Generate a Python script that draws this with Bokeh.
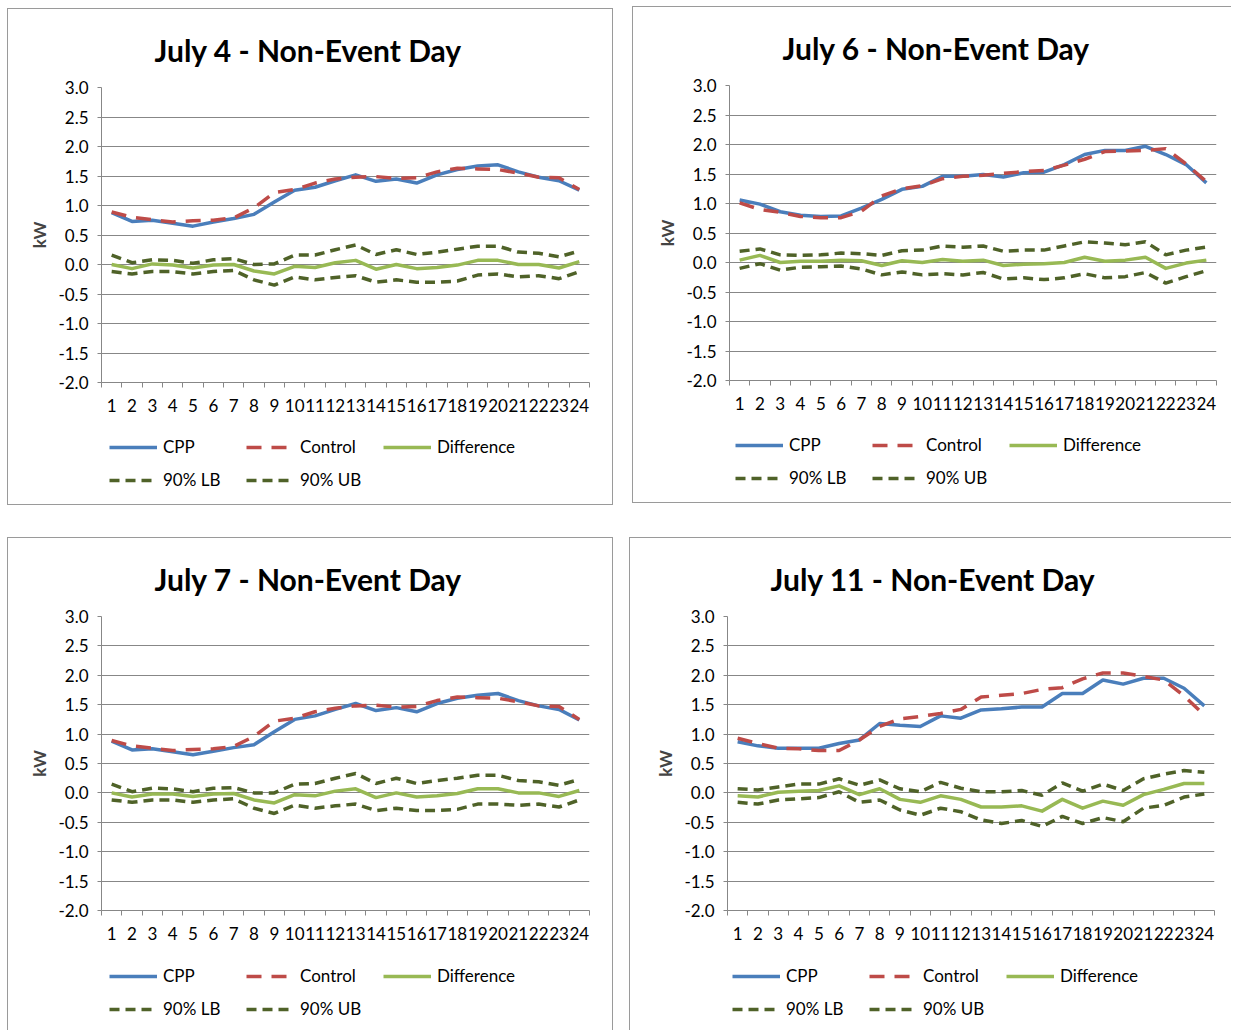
from bokeh.plotting import figure
from bokeh.models import Range1d, FixedTicker, Legend, LegendItem, PrintfTickFormatter
from bokeh.layouts import column, row
from bokeh.core.properties import value
from bokeh.embed import file_html
from bokeh.resources import INLINE

hours = list(range(1, 25))

titles = ["July 4 - Non-Event Day", "July 6 - Non-Event Day",
          "July 7 - Non-Event Day", "July 11 - Non-Event Day"]
series_names = ["CPP", "Control", "Difference", "90% LB", "90% UB"]

# July 4
cpp_jul4 = [0.88, 0.73, 0.75, 0.70, 0.65, 0.72, 0.78, 0.85, 1.06, 1.26, 1.31, 1.42,
            1.52, 1.41, 1.45, 1.38, 1.52, 1.61, 1.67, 1.69, 1.57, 1.48, 1.42, 1.26]
ctrl_jul4 = [0.89, 0.80, 0.76, 0.72, 0.74, 0.75, 0.79, 0.96, 1.22, 1.27, 1.38, 1.45,
             1.48, 1.49, 1.46, 1.47, 1.57, 1.63, 1.62, 1.61, 1.55, 1.48, 1.47, 1.27]
diff_jul4 = [0.00, -0.07, 0.01, -0.01, -0.06, -0.01, 0.00, -0.11, -0.16, -0.03, -0.05, 0.03,
             0.07, -0.08, 0.00, -0.07, -0.05, -0.01, 0.07, 0.07, 0.00, 0.00, -0.06, 0.05]
lb_jul4 = [-0.12, -0.16, -0.12, -0.12, -0.16, -0.12, -0.10, -0.26, -0.35, -0.21, -0.26, -0.22,
           -0.19, -0.30, -0.26, -0.30, -0.30, -0.28, -0.18, -0.16, -0.21, -0.19, -0.24, -0.12]
ub_jul4 = [0.16, 0.03, 0.08, 0.07, 0.02, 0.08, 0.10, 0.00, 0.01, 0.16, 0.16, 0.25,
           0.33, 0.17, 0.25, 0.17, 0.21, 0.26, 0.31, 0.31, 0.21, 0.19, 0.13, 0.23]

# July 6
cpp_jul6 = [1.06, 0.99, 0.86, 0.80, 0.78, 0.79, 0.92, 1.07, 1.24, 1.29, 1.46, 1.46,
            1.49, 1.45, 1.52, 1.53, 1.66, 1.83, 1.90, 1.90, 1.97, 1.83, 1.66, 1.35]
ctrl_jul6 = [1.01, 0.90, 0.85, 0.78, 0.76, 0.76, 0.87, 1.13, 1.25, 1.30, 1.42, 1.46,
             1.48, 1.51, 1.54, 1.56, 1.65, 1.75, 1.88, 1.89, 1.90, 1.93, 1.67, 1.37]
diff_jul6 = [0.04, 0.12, 0.00, 0.02, 0.02, 0.04, 0.03, -0.05, 0.03, 0.00, 0.05, 0.02,
             0.04, -0.05, -0.03, -0.02, 0.00, 0.09, 0.02, 0.04, 0.09, -0.10, -0.01, 0.04]
lb_jul6 = [-0.10, -0.02, -0.13, -0.08, -0.07, -0.06, -0.11, -0.21, -0.16, -0.21, -0.19, -0.21,
           -0.17, -0.28, -0.26, -0.29, -0.26, -0.19, -0.26, -0.24, -0.17, -0.35, -0.24, -0.14]
ub_jul6 = [0.19, 0.23, 0.13, 0.12, 0.13, 0.16, 0.15, 0.12, 0.20, 0.21, 0.28, 0.26,
           0.28, 0.19, 0.21, 0.21, 0.28, 0.35, 0.33, 0.30, 0.35, 0.13, 0.21, 0.26]

# July 7
cpp_jul7 = [0.88, 0.73, 0.75, 0.70, 0.65, 0.71, 0.77, 0.82, 1.04, 1.25, 1.31, 1.42,
            1.52, 1.40, 1.45, 1.38, 1.52, 1.61, 1.66, 1.69, 1.57, 1.48, 1.42, 1.24]
ctrl_jul7 = [0.89, 0.80, 0.76, 0.72, 0.74, 0.75, 0.79, 0.96, 1.22, 1.27, 1.38, 1.44,
             1.48, 1.49, 1.46, 1.47, 1.57, 1.63, 1.62, 1.61, 1.55, 1.48, 1.47, 1.25]
diff_jul7 = [0.00, -0.07, -0.02, -0.02, -0.06, -0.02, -0.01, -0.12, -0.17, -0.03, -0.05, 0.03,
             0.07, -0.08, 0.00, -0.07, -0.05, -0.01, 0.07, 0.07, 0.00, 0.00, -0.06, 0.04]
lb_jul7 = [-0.12, -0.16, -0.12, -0.12, -0.16, -0.12, -0.10, -0.26, -0.35, -0.21, -0.26, -0.22,
           -0.19, -0.30, -0.26, -0.30, -0.30, -0.28, -0.19, -0.19, -0.21, -0.19, -0.24, -0.12]
ub_jul7 = [0.15, 0.02, 0.08, 0.07, 0.02, 0.08, 0.09, 0.00, 0.00, 0.15, 0.16, 0.25,
           0.33, 0.16, 0.25, 0.16, 0.21, 0.25, 0.30, 0.30, 0.21, 0.19, 0.13, 0.23]

# July 11
cpp_jul11 = [0.87, 0.80, 0.76, 0.76, 0.76, 0.84, 0.90, 1.18, 1.15, 1.13, 1.31, 1.27,
             1.41, 1.43, 1.46, 1.46, 1.69, 1.69, 1.92, 1.85, 1.95, 1.95, 1.78, 1.48]
ctrl_jul11 = [0.93, 0.84, 0.76, 0.75, 0.72, 0.72, 0.90, 1.13, 1.26, 1.30, 1.35, 1.42,
              1.63, 1.66, 1.69, 1.76, 1.79, 1.94, 2.04, 2.04, 1.98, 1.92, 1.65, 1.32]
diff_jul11 = [-0.05, -0.07, 0.01, 0.03, 0.04, 0.12, -0.03, 0.07, -0.11, -0.16, -0.05, -0.11,
              -0.24, -0.24, -0.22, -0.31, -0.11, -0.26, -0.14, -0.21, -0.03, 0.06, 0.16, 0.16]
lb_jul11 = [-0.16, -0.19, -0.12, -0.10, -0.08, 0.02, -0.16, -0.12, -0.29, -0.38, -0.26, -0.32,
            -0.46, -0.52, -0.47, -0.57, -0.40, -0.52, -0.42, -0.49, -0.26, -0.21, -0.07, -0.02]
ub_jul11 = [0.07, 0.05, 0.10, 0.15, 0.15, 0.24, 0.13, 0.22, 0.07, 0.02, 0.18, 0.08,
            0.02, 0.02, 0.04, -0.04, 0.17, 0.03, 0.15, 0.04, 0.24, 0.32, 0.38, 0.35]

y_ticks = [-2.0, -1.5, -1.0, -0.5, 0.0, 0.5, 1.0, 1.5, 2.0, 2.5, 3.0]

FONT = "Lato"
GRID = "#878787"
BORDER = "#9a9a9a"

STYLES = [
    dict(line_color="#4a7ebb", line_width=3.5, line_join="round"),
    dict(line_color="#be4b48", line_width=3.5, line_dash="15 10"),
    dict(line_color="#98b954", line_width=3.5, line_join="round"),
    dict(line_color="#4f6228", line_width=3.5, line_dash="10 6"),
    dict(line_color="#4f6228", line_width=3.5, line_dash="10 6"),
]


def make_plot(title, series, width, left, right, top, title_offset):
    height = top + 296 + 40
    p = figure(width=width, height=height, output_backend="svg", toolbar_location=None,
               title=title,
               x_range=Range1d(0.5, 24.5), y_range=Range1d(-2.0, 3.0),
               min_border_left=left, min_border_right=right,
               min_border_top=top, min_border_bottom=40,
               outline_line_color=None)
    p.title.align = "left"
    p.title.offset = title_offset
    p.title.standoff = 40
    p.title.text_font = FONT
    p.title.text_font_size = "30px"
    p.title.text_font_style = "bold"
    p.title.text_color = "#000000"

    p.xaxis.ticker = FixedTicker(ticks=hours, minor_ticks=[h - 0.5 for h in hours] + [24.5])
    p.xaxis.major_tick_line_color = None
    p.xaxis.minor_tick_line_color = GRID
    p.xaxis.minor_tick_out = 5
    p.xaxis.minor_tick_in = 0
    p.xaxis.axis_line_color = GRID
    p.xaxis.major_label_standoff = 10
    p.xaxis.major_label_text_font = FONT
    p.xaxis.major_label_text_font_size = "17px"
    p.xaxis.major_label_text_color = "#000000"

    p.yaxis.ticker = FixedTicker(ticks=y_ticks)
    p.yaxis.formatter = PrintfTickFormatter(format="%.1f")
    p.yaxis.minor_tick_line_color = None
    p.yaxis.major_tick_line_color = GRID
    p.yaxis.major_tick_out = 4
    p.yaxis.major_tick_in = 0
    p.yaxis.axis_line_color = GRID
    p.yaxis.major_label_standoff = 9
    p.yaxis.major_label_text_font = FONT
    p.yaxis.major_label_text_font_size = "17px"
    p.yaxis.major_label_text_color = "#000000"
    p.yaxis.axis_label = "kW"
    p.yaxis.axis_label_text_font = FONT
    p.yaxis.axis_label_text_font_size = "17px"
    p.yaxis.axis_label_text_font_style = "bold"
    p.yaxis.axis_label_standoff = 5

    p.xgrid.grid_line_color = None
    p.ygrid.grid_line_color = GRID
    p.ygrid.grid_line_width = 1

    for ys, st in zip(series, STYLES):
        p.line(hours, ys, **st)
    return p


def make_legend_fig(series, width, height, vx, vy1, vy2):
    # legend-only strip below each chart; its series lie outside its (empty) ranges
    lf = figure(width=width, height=height, output_backend="svg", toolbar_location=None,
                x_range=Range1d(100, 101), y_range=Range1d(100, 101),
                x_axis_type=None, y_axis_type=None, min_border=0,
                outline_line_color=None)
    lf.xgrid.grid_line_color = None
    lf.ygrid.grid_line_color = None
    rends = [lf.line(hours, ys, **st) for ys, st in zip(series, STYLES)]
    items = [LegendItem(label=value(n), renderers=[r]) for n, r in zip(series_names, rends)]

    def leg(its, vy):
        return Legend(items=its, orientation="horizontal", location=(vx, vy),
                      glyph_width=48, glyph_height=18, label_height=18, label_width=70,
                      label_standoff=6, spacing=13, padding=0, margin=0,
                      label_text_font=FONT, label_text_font_size="17px",
                      label_text_color="#000000",
                      border_line_color=None, background_fill_alpha=0)
    lf.add_layout(leg(items[:3], vy1))
    lf.add_layout(leg(items[3:], vy2))
    return lf


b = f"1px solid {BORDER}"

s1 = [cpp_jul4, ctrl_jul4, diff_jul4, lb_jul4, ub_jul4]
s2 = [cpp_jul6, ctrl_jul6, diff_jul6, lb_jul6, ub_jul6]
s3 = [cpp_jul7, ctrl_jul7, diff_jul7, lb_jul7, ub_jul7]
s4 = [cpp_jul11, ctrl_jul11, diff_jul11, lb_jul11, ub_jul11]

p1 = make_plot(titles[0], s1, 604, 93, 23, 77, 53)
l1 = make_legend_fig(s1, 604, 82, 8, 47, 14)
c1 = column(p1, l1, spacing=0, styles={"border": b}, margin=(2, 0, 0, 0))

p2 = make_plot(titles[1], s2, 598, 96, 15, 77, 53)
l2 = make_legend_fig(s2, 598, 82, 6, 47, 14)
c2 = column(p2, l2, spacing=0,
            styles={"border-left": b, "border-top": b, "border-bottom": b})

p3 = make_plot(titles[2], s3, 604, 93, 23, 76, 53)
l3 = make_legend_fig(s3, 604, 80, 8, 44, 11)
c3 = column(p3, l3, spacing=0,
            styles={"border-left": b, "border-top": b, "border-right": b})

p4 = make_plot(titles[3], s4, 601, 97, 17, 76, 43)
l4 = make_legend_fig(s4, 601, 80, 5, 44, 11)
c4 = column(p4, l4, spacing=0, styles={"border-left": b, "border-top": b})

layout = column(row(c1, c2, spacing=19), row(c3, c4, spacing=16), spacing=32,
                margin=(6, 0, 0, 7))

open("out.html", "w").write(file_html(layout, INLINE))
